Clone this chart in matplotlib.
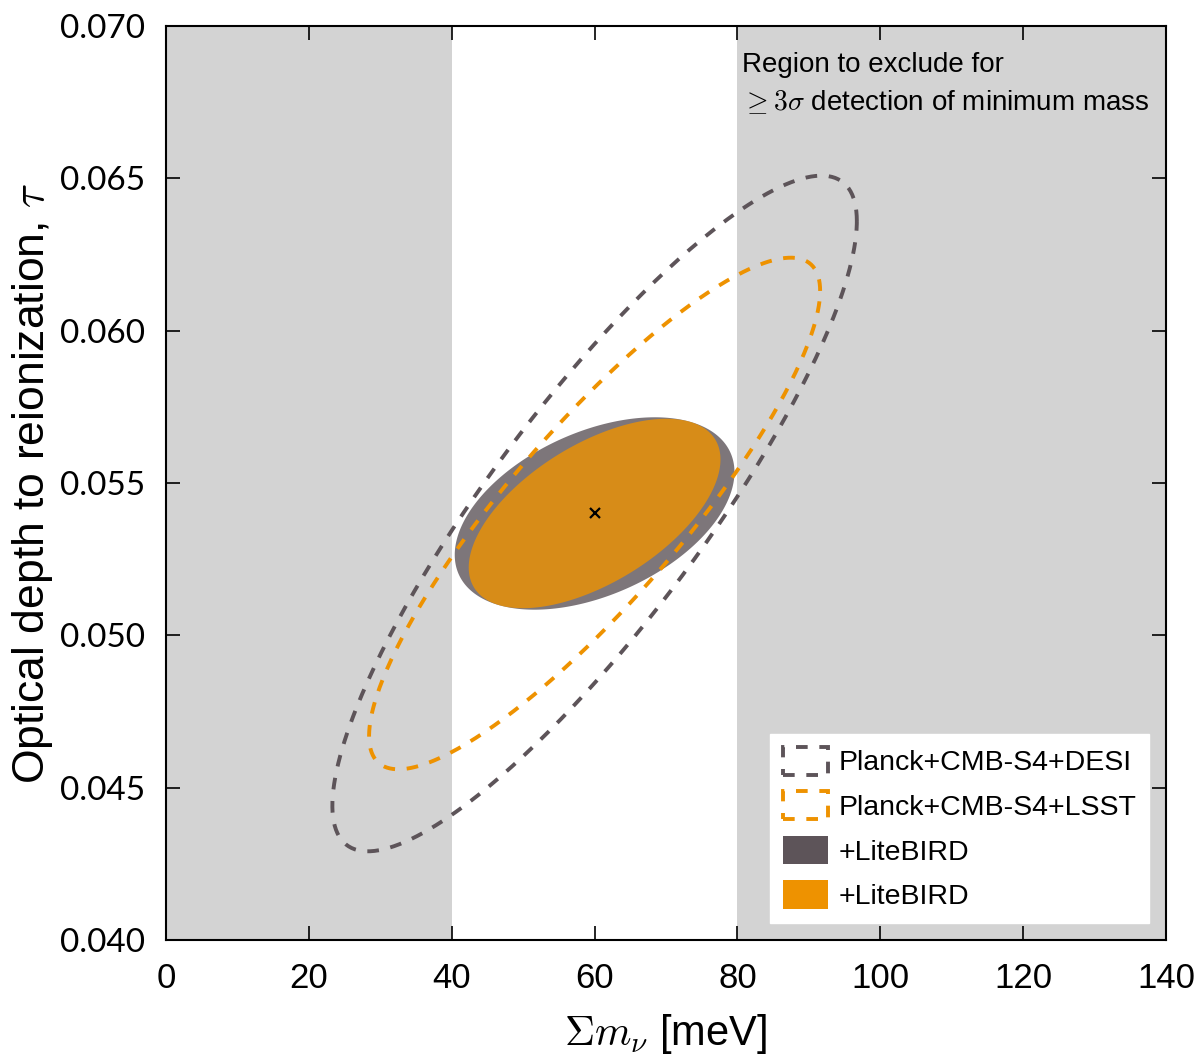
import numpy as np
import matplotlib
matplotlib.use('Agg')
import matplotlib.pyplot as plt
from matplotlib.patches import Patch

plt.rcParams['mathtext.fontset'] = 'cm'
sans = ['Liberation Sans', 'DejaVu Sans']

# --- Fiducial point and forecast errors ---
fid_mnu = 60.0      # meV
fid_tau = 0.054
k95 = np.sqrt(5.991)  # 95% contour, 2 parameters

labels = ['Planck+CMB-S4+DESI', 'Planck+CMB-S4+LSST', '+LiteBIRD', '+LiteBIRD']
sig_mnu = [15.0, 12.9, 8.0, 7.2]
sig_tau = [0.00453, 0.00343, 0.00129, 0.00127]
corr = [0.865, 0.87, 0.43, 0.57]

# excluded region limits for a 3 sigma detection of the minimum mass
excl_lo = 40
excl_hi = 80

grey = '#5d5459'
orange = '#ee9200'
lw_dash = 2.8
dash = (3, 3)


def contour(i, n=400):
    t = np.linspace(0, 2 * np.pi, n)
    x = fid_mnu + k95 * sig_mnu[i] * np.cos(t)
    y = fid_tau + k95 * sig_tau[i] * (corr[i] * np.cos(t) + np.sqrt(1 - corr[i]**2) * np.sin(t))
    return x, y


fig = plt.figure(figsize=(11.98, 10.56), dpi=100)
ax = fig.add_axes([0.1386, 0.1098, 0.8347, 0.8656])

ax.axvspan(0, excl_lo, color='#d3d3d3', lw=0, zorder=0)
ax.axvspan(excl_hi, 140, color='#d3d3d3', lw=0, zorder=0)

# filled LiteBIRD contours
x, y = contour(2)
ax.fill(x, y, color=grey, alpha=0.8, lw=0, zorder=2)
x, y = contour(3)
ax.fill(x, y, color=orange, alpha=0.8, lw=0, zorder=3)

# dashed contours without LiteBIRD
x, y = contour(0)
ax.plot(x, y, color=grey, lw=lw_dash, dashes=dash, zorder=4)
x, y = contour(1)
ax.plot(x, y, color=orange, lw=lw_dash, dashes=dash, zorder=4)

ax.plot(fid_mnu, fid_tau, 'x', color='k', ms=7, mew=1.6, zorder=5)

ax.text(80.6, 0.06915, 'Region to exclude for\n$\\geq 3\\sigma$ detection of minimum mass',
        family=sans, fontsize=20, va='top', ha='left', linespacing=1.5)

ax.set_xlim(0, 140)
ax.set_ylim(0.040, 0.070)
ax.set_xticks(np.arange(0, 141, 20))
ax.set_yticks(np.arange(0.040, 0.0701, 0.005))
ax.set_yticklabels(['%.3f' % v for v in np.arange(0.040, 0.0701, 0.005)])
ax.tick_params(direction='in', top=True, right=True, length=10, width=1.2)
ax.tick_params(axis='x', pad=16)
ax.tick_params(axis='y', pad=15)
for lab in ax.get_xticklabels():
    lab.set_family(sans)
    lab.set_fontsize(25)
for lab in ax.get_yticklabels():
    lab.set_family(['Lato', 'DejaVu Sans'])
    lab.set_fontsize(24)
for s in ax.spines.values():
    s.set_linewidth(1.5)

ax.set_xlabel('$\\Sigma m_\\nu$ [meV]', family=sans, fontsize=30, labelpad=12)
ax.set_ylabel('Optical depth to reionization, $\\tau$', family=sans, fontsize=32)
ax.yaxis.set_label_coords(-0.111, 0.5)

handles = [
    Patch(facecolor='none', edgecolor=grey, lw=lw_dash, linestyle=(0, dash)),
    Patch(facecolor='none', edgecolor=orange, lw=lw_dash, linestyle=(0, dash)),
    Patch(facecolor=grey, edgecolor='none'),
    Patch(facecolor=orange, edgecolor='none'),
]
leg = ax.legend(handles, labels, loc='lower right', prop={'family': sans, 'size': 20.5},
                frameon=True, fancybox=False, framealpha=1, edgecolor='white',
                handlelength=1.6, handleheight=1.15, handletextpad=0.35, labelspacing=0.52,
                borderaxespad=0.6, borderpad=0.45)
leg.set_zorder(6)

fig.savefig('out.png', dpi=100)
